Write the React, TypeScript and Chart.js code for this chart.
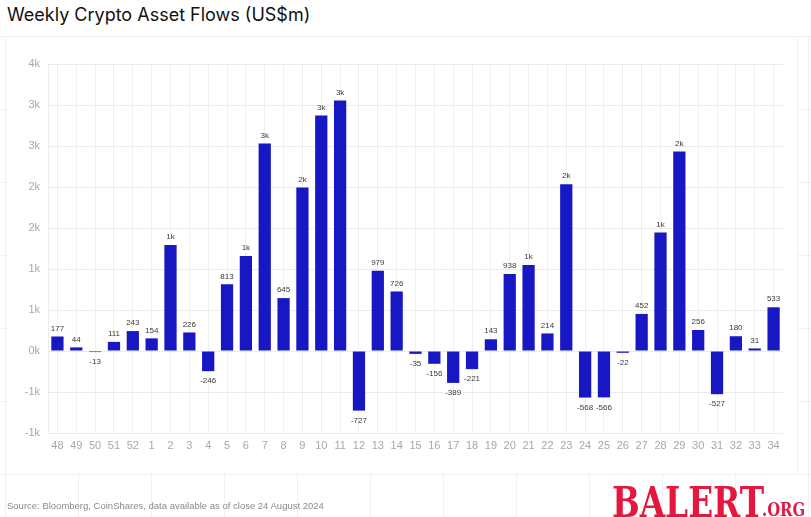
import React, { useEffect, useRef } from "react";
import { Chart, registerables } from "chart.js";

Chart.register(...registerables);

const weeks = ["48","49","50","51","52","1","2","3","4","5","6","7","8","9","10","11","12","13","14","15","16","17","18","19","20","21","22","23","24","25","26","27","28","29","30","31","32","33","34"];
const flows = [177,44,-13,111,243,154,1294,226,-246,813,1160,2531,645,1994,2873,3056,-727,979,726,-35,-156,-389,-221,143,938,1050,214,2035,-568,-566,-22,452,1444,2433,256,-527,180,31,533];
const flowLabels = ["177","44","-13","111","243","154","1k","226","-246","813","1k","3k","645","2k","3k","3k","-727","979","726","-35","-156","-389","-221","143","938","1k","214","2k","-568","-566","-22","452","1k","2k","256","-527","180","31","533"];
const yTickValues = [-1000,-500,0,500,1000,1500,2000,2500,3000,3500];
const yTickLabels = ["-1k","-1k","0k","1k","1k","2k","2k","3k","3k","4k"];

const titleText = "Weekly Crypto Asset Flows (US$m)";
const sourceText = "Source: Bloomberg, CoinShares, data available as of close 24 August 2024";

const barLabelPlugin = {
  id: "barLabels",
  afterDatasetsDraw(chart: any) {
    const ctx = chart.ctx;
    const meta = chart.getDatasetMeta(0);
    ctx.save();
    ctx.font = "8px 'Liberation Sans', Arial, sans-serif";
    ctx.fillStyle = "#3a3a3a";
    ctx.textAlign = "center";
    ctx.textBaseline = "middle";
    meta.data.forEach((bar: any, i: number) => {
      const v = flows[i];
      const y = v >= 0 ? bar.y - 8 : bar.y + 10;
      ctx.fillText(flowLabels[i], bar.x, y);
    });
    ctx.restore();
  },
};

export default function App() {
  const ref = useRef<HTMLCanvasElement>(null);
  useEffect(() => {
    document.body.style.margin = "0";
    const chart = new Chart(ref.current!, {
      type: "bar",
      data: {
        labels: weeks,
        datasets: [
          {
            data: flows,
            backgroundColor: "#1717c4",
            borderWidth: 0,
            categoryPercentage: 1,
            barPercentage: 0.65,
          },
        ],
      },
      options: {
        responsive: false,
        animation: false,
        layout: { padding: { left: 0, right: 28, top: 64, bottom: 60 } },
        plugins: { legend: { display: false }, tooltip: { enabled: false }, title: { display: false } },
        scales: {
          x: {
            offset: true,
            grid: { offset: false, color: "#efefef", drawTicks: false },
            border: { display: false },
            ticks: {
              color: "#a8a8a8",
              font: { size: 11, family: "'Liberation Sans', Arial, sans-serif" },
              padding: 6,
              maxRotation: 0,
              autoSkip: false,
            },
            afterFit: (s: any) => { s.height = 24; },
          },
          y: {
            min: -1000,
            max: 3500,
            afterBuildTicks: (s: any) => { s.ticks = yTickValues.map((v) => ({ value: v })); },
            grid: { color: "#ececec", drawTicks: false },
            border: { display: true, color: "#ececec" },
            ticks: {
              color: "#a8a8a8",
              font: { size: 11, family: "'Liberation Sans', Arial, sans-serif" },
              padding: 8,
              callback: (v: any) => {
                const idx = yTickValues.indexOf(Number(v));
                return idx >= 0 ? yTickLabels[idx] : "";
              },
            },
            afterFit: (s: any) => { s.width = 48; },
          },
        },
      },
      plugins: [barLabelPlugin],
    });
    return () => chart.destroy();
  }, []);

  const bgGrid =
    "repeating-linear-gradient(to right, #f1f1f1 0px, #f1f1f1 1px, transparent 1px, transparent 73px), " +
    "repeating-linear-gradient(to bottom, #f1f1f1 0px, #f1f1f1 1px, transparent 1px, transparent 73px)";

  return (
    <div style={{ position: "relative", width: 811, height: 517, overflow: "hidden", background: "#fff" }}>
      <div style={{ position: "absolute", left: 0, top: 0, width: 811, height: 517, backgroundImage: bgGrid, backgroundPosition: "5px 36px" }} />
      <div style={{ position: "absolute", left: 7, top: 37, width: 790, height: 436, background: "#fff", borderRight: "1px solid #f1f1f1" }} />
      <div style={{ position: "absolute", left: 0, top: 0, width: 811, height: 36, background: "#fff", borderBottom: "1px solid #f0f0f0" }} />
      <div style={{ position: "absolute", left: 7, top: 4, fontFamily: "Inter, 'Noto Sans', sans-serif", fontSize: 18, color: "#111", whiteSpace: "nowrap" }}>
        {titleText}
      </div>
      <canvas ref={ref} width={811} height={517} style={{ position: "absolute", left: 0, top: 0 }} />
      <div style={{ position: "absolute", left: 7, top: 500, fontFamily: "'Liberation Sans', Arial, sans-serif", fontSize: 9.5, color: "#8a8a8a", whiteSpace: "nowrap" }}>
        {sourceText}
      </div>
      <div style={{ position: "absolute", left: 612, top: 482, whiteSpace: "nowrap", color: "#e5173f", fontFamily: "'DejaVu Serif', serif", fontWeight: 700 }}>
        <span style={{ position: "absolute", left: 0, top: 0, fontSize: 42, lineHeight: "42px", transform: "scaleX(0.78)", transformOrigin: "left center" }}>BALERT</span>
        <span style={{ position: "absolute", left: 150, top: 17, fontSize: 19, lineHeight: "20px", transform: "scaleX(0.78)", transformOrigin: "left center" }}>.ORG</span>
      </div>
    </div>
  );
}
